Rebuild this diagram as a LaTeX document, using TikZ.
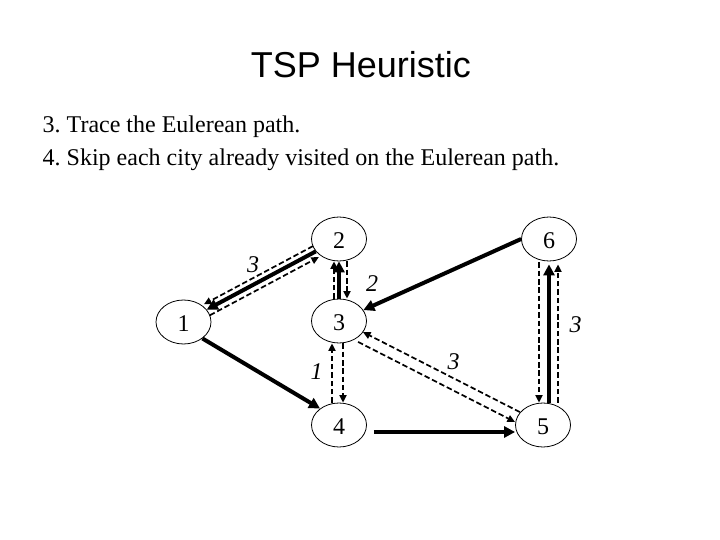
\documentclass[tikz,border=0pt]{standalone}
\usepackage{fontspec}
\setmainfont{Liberation Serif}
\newfontfamily\titlefont{Liberation Sans}
\usetikzlibrary{shapes.geometric,arrows.meta,calc}
\frenchspacing
\begin{document}
\begin{tikzpicture}[x=1pt,y=-1pt,
  city/.style={ellipse,draw,line width=0.8pt,minimum width=55pt,minimum height=44pt,inner sep=0pt,text height=19pt,text depth=0pt,font=\fontsize{24}{28}\selectfont},
  solidarr/.style={line width=4pt,-{Triangle[length=11pt,width=11pt]}},
  dasharr/.style={line width=1.7pt,dash pattern=on 5.5pt off 2.8pt,-{Triangle[length=7.5pt,width=7pt]}},
  wlabel/.style={font=\fontsize{24}{28}\selectfont\itshape,inner sep=0pt},
  bodytext/.style={anchor=base west,inner sep=0pt,font=\fontsize{24}{28}\selectfont},
  shiftby/.style={transform canvas={shift={#1}}}]
\useasboundingbox[fill=white] (0,0) rectangle (720,540);

\node[anchor=base,inner sep=0pt,font=\titlefont\fontsize{36}{40}\selectfont] (title) at (361,77.5) {TSP Heuristic};
\node[bodytext] (l1) at (42.5,132.5) {3. Trace the Eulerean path.};
\node[bodytext] (l2) at (42.5,165.5) {4. Skip each city already visited on the Eulerean path.};

\node[city] (n1) at (183.5,322) {1};
\node[city] (n2) at (339,239) {2};
\node[city] (n3) at (339,321) {3};
\node[city] (n4) at (339,425) {4};
\node[city] (n5) at (543,425) {5};
\node[city] (n6) at (549,239) {6};

% 1 -- 2
\draw[dasharr,shiftby={(-2.8,-5.3)}] (n2) -- (n1);
\draw[dasharr,shiftby={(3.1,5.7)}] (n1) -- (n2);
\draw[solidarr] (n2) -- (n1);

% 2 -- 3
\draw[dasharr,shiftby={(-5,0)}] (n3) -- (n2);
\draw[dasharr,shiftby={(8,0)}] (n2) -- (n3);
\draw[solidarr] (n3) -- (n2);

% 6 -> 3
\draw[solidarr] (n6.west) -- (n3);

% 3 -- 5
\draw[dasharr,shiftby={(0.45,-0.9)}] (n5) -- (n3);
\draw[dasharr,shiftby={(-4.5,8.9)}] (n3) -- (n5);

% 3 -- 4
\draw[dasharr,shiftby={(-7,0)}] (n4) -- (n3);
\draw[dasharr,shiftby={(4,0)}] (n3) -- (n4);

% 1 -> 4
\draw[solidarr] (n1.-41) -- (n4.139);

% 4 -> 5
\draw[solidarr,shiftby={(0,7)},shorten <=7pt] (n4) -- (n5);

% 5 -- 6
\coordinate (p6l) at ($(n6.south)+(-10,1)$);
\coordinate (p5l) at (p6l |- n5.north);
\coordinate (p5m) at (n6.south |- n5.north);
\coordinate (p6r) at ($(n6.south)+(9,3)$);
\coordinate (p5r) at (p6r |- n5.north);
\draw[dasharr] (p6l) -- (p5l);
\draw[solidarr,shorten >=3pt] (p5m) -- (n6.south);
\draw[dasharr] (p5r) -- (p6r);

% edge weights
\node[wlabel] (w12) at (253,265) {3};
\node[wlabel] (w23) at (372,283.5) {2};
\node[wlabel] (w35) at (453.5,361.5) {3};
\node[wlabel] (w34) at (316.5,372) {1};
\node[wlabel] (w56) at (575.5,325) {3};
\end{tikzpicture}
\end{document}
